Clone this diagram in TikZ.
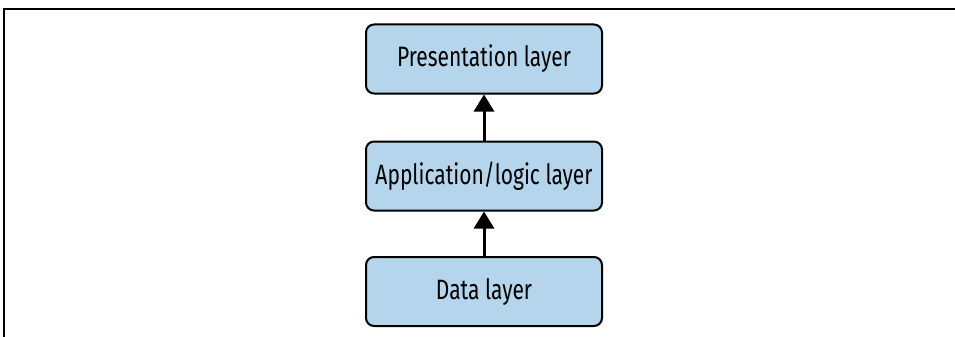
\documentclass[tikz,border=0pt]{standalone}
\usepackage{fontspec}
\setmainfont{Fira Sans}[FakeStretch=0.75]
\usetikzlibrary{arrows.meta}
\definecolor{boxblue}{HTML}{B4D5EB}
\tikzset{
  layerbox/.style={draw=black, line width=2pt, rounded corners=8pt, fill=boxblue,
    minimum width=236pt, minimum height=69pt, inner sep=0pt, font=\fontsize{28}{32}\selectfont},
  uparrow/.style={line width=3pt, -{Triangle[width=20pt,length=17pt]}},
  frameline/.style={line width=2pt}
}
\begin{document}
\begin{tikzpicture}[x=1pt,y=-1pt]
\useasboundingbox (0,0) rectangle (955,337);
\coordinate (ftop) at (955,9);
\coordinate (fcorner) at (4,9);
\coordinate (fbot) at (4,337);
\draw[frameline] (ftop) -- (fcorner) -- (fbot);
\node[layerbox] (pres) at (484,59) {Presentation layer};
\node[layerbox] (app) at (484,176) {Application/logic layer};
\node[layerbox] (data) at (484,291.5) {Data layer};
\draw[uparrow] (app.north) -- (pres.south);
\draw[uparrow] (data.north) -- (app.south);
\end{tikzpicture}
\end{document}
